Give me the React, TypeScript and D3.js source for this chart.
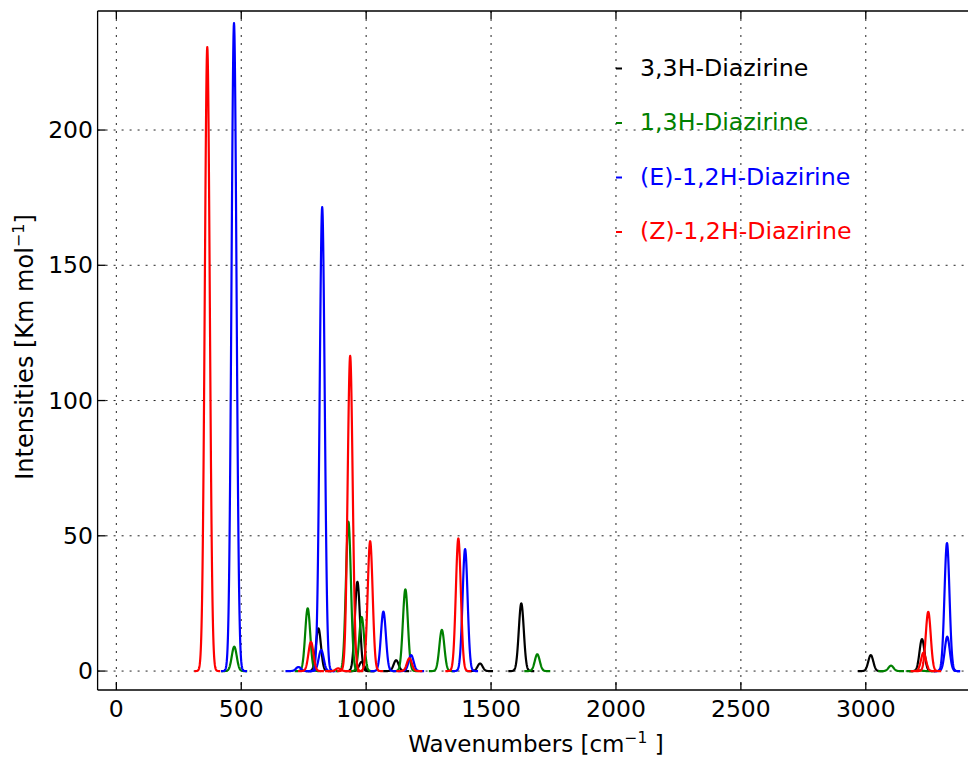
import React from 'react';
import * as d3 from 'd3';

// peak positions (cm-1) and intensities (Km/mol)
const names = ['3,3H-Diazirine', '1,3H-Diazirine', '(E)-1,2H-Diazirine', '(Z)-1,2H-Diazirine'];
const colors = ['#000000', '#008000', '#0000ff', '#ff0000'];

const pos33H = [809, 965, 982, 1120, 1456, 1621, 3020, 3225];
const int33H = [15.8, 33, 3.4, 4, 2.8, 25, 5.9, 11.8];

const pos13H = [472, 766, 929, 982, 1157, 1303, 1685, 3101, 3215];
const int13H = [9, 23.2, 55.2, 20, 30.2, 15.2, 6.2, 2, 0.3];

const posE12H = [471, 729, 820, 824, 1069, 1180, 1396, 3325, 3326];
const intE12H = [239.5, 1.5, 7.8, 171.5, 22, 5.9, 45.1, 47.3, 12.7];

const posZ12H = [364, 779, 888, 936, 1016, 1173, 1369, 3231, 3250];
const intZ12H = [230.7, 10.8, 1, 116.5, 48, 4.7, 49, 6.8, 21.9];

const xTicks = [0, 500, 1000, 1500, 2000, 2500, 3000];
const yTicks = [0, 50, 100, 150, 200];

const positions = [pos33H, pos13H, posE12H, posZ12H];
const intensities = [int33H, int13H, intE12H, intZ12H];

const sigma = 10;
const halfSpan = 52;

// one gaussian band per normal mode, each drawn as its own segment
function band(center: number, height: number) {
  return d3.range(center - halfSpan, center + halfSpan + 0.5, 1).map((v) => [
    v,
    height * Math.exp(-((v - center) ** 2) / (2 * sigma * sigma)),
  ]);
}

export default function App() {
  const W = 968;
  const H = 757;
  const left = 97.6, top = 11, bottom = 690;

  const x = d3.scaleLinear().domain([-75, 3500]).range([left, 990.7]);
  const y = d3.scaleLinear().domain([-7, 244]).range([bottom, top]);
  const right = x(3500);

  const line = d3
    .line<number[]>()
    .x((d) => x(d[0]))
    .y((d) => y(d[1]));

  const font = "'DejaVu Sans', sans-serif";

  return (
    <svg
      width={W}
      height={H}
      style={{ position: 'absolute', left: 0, top: 0, display: 'block', background: '#fff' }}
    >
      <defs>
        <clipPath id="plot">
          <rect x={left} y={top} width={right - left} height={bottom - top} />
        </clipPath>
      </defs>

      {/* grid */}
      <g stroke="#222" strokeWidth={1} strokeDasharray="2,6">
        {xTicks.map((t) => (
          <line key={'gx' + t} x1={x(t)} x2={x(t)} y1={top} y2={bottom} />
        ))}
        {yTicks.map((t) => (
          <line key={'gy' + t} x1={left} x2={right} y1={y(t)} y2={y(t)} />
        ))}
      </g>

      {/* spectra */}
      <g clipPath="url(#plot)" fill="none" strokeWidth={2.2} strokeLinejoin="round">
        {positions.map((ps, si) =>
          ps.map((p, i) => (
            <path key={si + '-' + i} d={line(band(p, intensities[si][i])) || ''} stroke={colors[si]} />
          ))
        )}
      </g>

      {/* frame + inward ticks */}
      <g stroke="#000" strokeWidth={1.3}>
        <line x1={left} x2={left} y1={top} y2={bottom} />
        <line x1={left} x2={right} y1={top} y2={top} />
        <line x1={left} x2={right} y1={bottom} y2={bottom} />
        {xTicks.map((t) => (
          <g key={'tx' + t}>
            <line x1={x(t)} x2={x(t)} y1={bottom} y2={bottom - 8} />
            <line x1={x(t)} x2={x(t)} y1={top} y2={top + 8} />
          </g>
        ))}
        {yTicks.map((t) => (
          <line key={'ty' + t} x1={left} x2={left + 8} y1={y(t)} y2={y(t)} />
        ))}
      </g>

      <g fontFamily={font} fontSize={23.5} fill="#000">
        {xTicks.map((t) => (
          <text key={'lx' + t} x={x(t)} y={717} textAnchor="middle">
            {t}
          </text>
        ))}
        {yTicks.map((t) => (
          <text key={'ly' + t} x={93} y={y(t)} textAnchor="end" dominantBaseline="central">
            {t}
          </text>
        ))}
      </g>

      <text x={536} y={752} textAnchor="middle" fontFamily={font} fontSize={23}>
        Wavenumbers [cm
        <tspan fontSize={15.5} dy={-9}>−1</tspan>
        <tspan dy={9}> ]</tspan>
      </text>
      <text
        transform="translate(33,347) rotate(-90)"
        textAnchor="middle"
        fontFamily={font}
        fontSize={24}
      >
        Intensities [Km mol
        <tspan fontSize={16} dy={-9}>−1</tspan>
        <tspan dy={9}>]</tspan>
      </text>

      {/* legend */}
      <g fontFamily={font} fontSize={23.7}>
        {names.map((n, i) => (
          <g key={n} transform={`translate(0, ${75.5 + i * 54.5})`}>
            <line x1={616} x2={622} y1={-7} y2={-7} stroke={colors[i]} strokeWidth={2} />
            <text x={640} y={0} fill={colors[i]}>
              {n}
            </text>
          </g>
        ))}
      </g>
    </svg>
  );
}
